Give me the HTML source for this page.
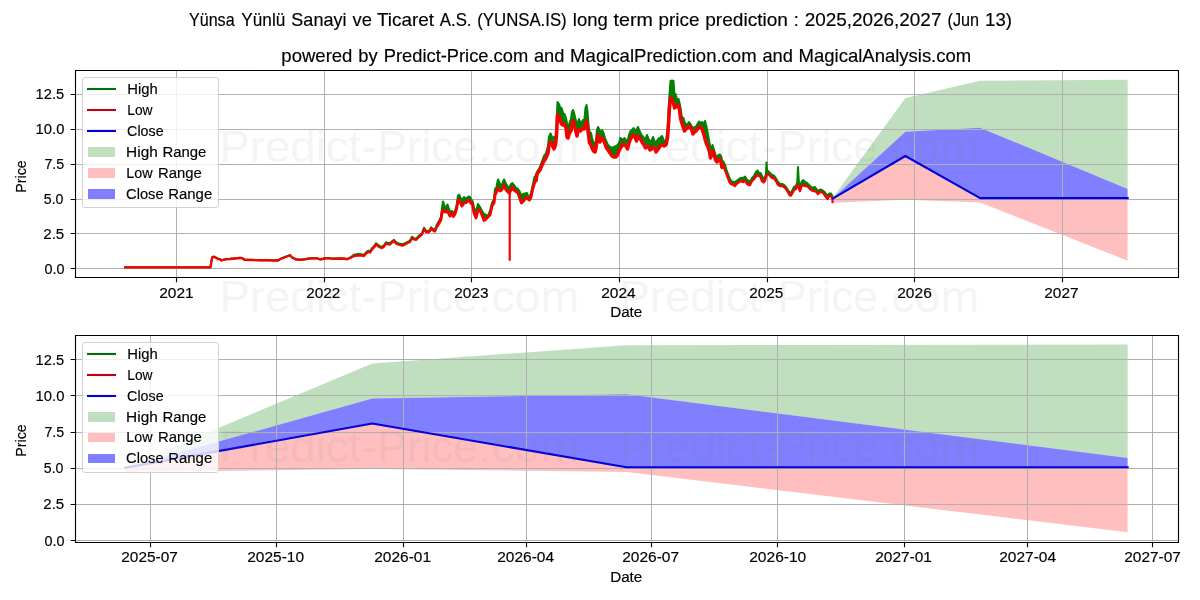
<!DOCTYPE html>
<html lang="en"><head><meta charset="utf-8"><title>YUNSA.IS long term price prediction</title>
<style>html,body{margin:0;padding:0;background:#fff;overflow:hidden}svg{display:block;font-family:"Liberation Sans",sans-serif;will-change:transform;opacity:.999}text{white-space:pre}</style></head><body>
<svg width="1200" height="600" viewBox="0 0 1200 600">
<rect width="1200" height="600" fill="#fff"/>
<text y="26.00" font-size="17.58" fill="#000" stroke="#000" stroke-width="0.15"><tspan x="188.96" textLength="45.63" lengthAdjust="spacingAndGlyphs">Yünsa</tspan> <tspan x="241.31" textLength="43.97" lengthAdjust="spacingAndGlyphs">Yünlü</tspan> <tspan x="291.33" textLength="55.14" lengthAdjust="spacingAndGlyphs">Sanayi</tspan> <tspan x="352.62" textLength="19.37" lengthAdjust="spacingAndGlyphs">ve</tspan> <tspan x="377.00" textLength="56.96" lengthAdjust="spacingAndGlyphs">Ticaret</tspan> <tspan x="439.80" textLength="31.70" lengthAdjust="spacingAndGlyphs">A.S.</tspan> <tspan x="477.28" textLength="89.42" lengthAdjust="spacingAndGlyphs">(YUNSA.IS)</tspan> <tspan x="572.80" textLength="35.00" lengthAdjust="spacingAndGlyphs">long</tspan> <tspan x="613.58" textLength="39.28" lengthAdjust="spacingAndGlyphs">term</tspan> <tspan x="658.57" textLength="40.93" lengthAdjust="spacingAndGlyphs">price</tspan> <tspan x="705.18" textLength="82.79" lengthAdjust="spacingAndGlyphs">prediction</tspan> <tspan x="793.75" textLength="5.00" lengthAdjust="spacingAndGlyphs">:</tspan> <tspan x="804.68" textLength="136.75" lengthAdjust="spacingAndGlyphs">2025,2026,2027</tspan> <tspan x="947.57" textLength="31.45" lengthAdjust="spacingAndGlyphs">(Jun</tspan> <tspan x="985.10" textLength="26.94" lengthAdjust="spacingAndGlyphs">13)</tspan></text>
<clipPath id="c1"><rect x="75.03" y="70.33" width="1102.71" height="206.56"/></clipPath>
<g clip-path="url(#c1)">
<polygon points="832.65,197.85 905.38,98.11 980.13,80.67 1127.62,79.84 1127.62,189.06 980.13,127.68 905.38,131.87 832.65,198.55" fill="#008000" fill-opacity="0.25"/>
<polygon points="832.65,198.55 905.38,156.00 980.13,198.13 1127.62,198.13 1127.62,260.63 980.13,202.60 905.38,199.67 832.65,202.74" fill="#ff0000" fill-opacity="0.25"/>
<polygon points="832.65,198.55 905.38,131.87 980.13,127.68 1127.62,189.06 1127.62,198.13 980.13,198.13 905.38,156.00 832.65,198.55" fill="#0000ff" fill-opacity="0.5"/>
<path d="M176.5 70.33V276.89M324.5 70.33V276.89M471.5 70.33V276.89M619.5 70.33V276.89M767.5 70.33V276.89M914.5 70.33V276.89M1062.5 70.33V276.89M75.03 268.5H1177.74M75.03 233.5H1177.74M75.03 199.5H1177.74M75.03 164.5H1177.74M75.03 129.5H1177.74M75.03 94.5H1177.74" stroke="#b0b0b0" stroke-width="1" fill="none" shape-rendering="crispEdges"/>
<polygon points="125.15,267.20 210.50,267.20 211.30,261.80 212.30,257.10 214.00,256.60 216.00,257.60 218.00,258.80 220.00,259.10 221.50,260.30 223.00,259.80 226.00,259.10 230.00,258.80 235.00,258.30 240.00,257.80 242.00,258.00 244.50,259.60 250.00,259.80 260.00,260.10 268.00,260.00 272.00,260.30 278.00,260.30 280.00,259.00 283.00,257.80 287.00,256.30 290.00,255.10 292.00,257.30 296.00,259.30 300.00,259.60 305.00,259.10 310.00,258.30 317.00,258.10 320.00,259.30 325.00,258.30 328.00,258.00 333.00,258.60 340.00,258.30 345.00,258.60 347.00,259.10 350.00,257.80 354.00,254.80 358.00,254.10 362.00,254.40 364.00,254.80 366.00,252.30 368.00,250.80 370.00,251.30 372.00,248.30 374.00,246.30 376.00,243.30 378.00,244.80 380.00,246.30 382.00,246.80 384.00,245.30 386.00,242.30 388.00,243.10 390.00,243.30 392.00,241.30 394.00,239.80 396.00,242.30 398.00,243.30 400.00,243.80 403.00,244.30 405.00,243.30 407.00,242.10 410.00,240.80 412.00,236.80 414.00,238.30 416.00,238.80 418.00,236.80 420.00,234.80 422.00,233.30 424.00,227.80 426.00,230.80 428.00,231.30 430.00,229.80 431.00,227.30 433.00,229.00 435.00,229.50 437.00,224.50 439.00,221.00 441.00,217.00 442.00,208.00 443.00,201.50 444.50,206.00 446.00,208.00 447.50,204.50 449.00,209.00 450.00,212.00 452.00,211.00 453.50,213.00 455.00,211.00 456.50,206.00 458.00,196.00 459.00,194.50 460.50,198.00 462.00,200.00 464.00,197.00 466.00,199.00 468.00,197.00 469.50,196.50 471.00,199.00 472.50,201.00 474.00,208.00 476.00,212.00 478.00,204.00 480.00,207.00 482.00,211.00 484.00,214.00 486.00,215.00 488.00,216.00 490.00,211.00 492.00,203.00 494.00,199.00 495.00,189.00 496.50,187.00 498.00,179.50 500.00,184.00 501.50,186.00 503.00,182.00 504.00,179.50 506.00,184.00 508.00,187.00 509.30,188.00 511.00,184.00 512.50,183.00 514.00,185.00 516.00,188.00 518.00,189.00 520.00,192.00 521.50,197.00 523.00,194.00 525.00,193.50 527.00,193.00 528.00,196.00 529.50,197.00 531.00,193.00 533.00,184.00 534.50,177.00 536.00,175.00 537.00,172.00 540.00,167.00 542.00,161.50 544.00,156.00 546.00,153.50 548.00,146.00 549.00,137.00 550.50,133.50 552.00,137.00 553.00,141.00 554.00,137.00 555.50,138.00 556.50,125.00 557.50,102.00 559.00,104.00 560.00,107.00 561.50,108.00 563.00,113.00 564.50,114.00 566.00,118.00 567.00,124.00 568.00,130.00 569.50,123.00 571.00,119.00 572.00,112.00 573.00,110.00 574.00,113.00 575.50,119.00 577.00,126.00 578.00,122.00 579.00,119.00 580.50,123.00 582.00,122.00 583.00,120.00 584.00,124.00 585.50,108.00 586.50,105.00 587.50,112.00 588.50,125.00 589.50,132.00 591.00,133.00 592.00,138.00 593.50,143.00 595.00,144.00 596.00,140.00 597.00,130.00 598.00,127.00 599.00,129.00 600.00,133.00 602.00,130.00 603.50,133.00 605.00,138.00 606.50,142.00 608.00,145.00 610.00,147.00 612.00,148.00 614.00,147.00 616.00,146.00 617.50,145.00 619.00,143.00 620.50,138.00 622.00,139.00 623.00,140.00 624.50,138.00 626.00,140.00 627.50,142.00 629.00,135.00 630.50,131.00 632.00,130.00 633.50,128.00 635.00,130.00 636.50,130.00 638.00,127.00 639.50,131.00 641.00,134.00 642.50,136.00 644.00,138.00 645.50,139.00 647.00,135.00 648.50,139.00 650.00,141.00 651.50,141.00 653.00,137.00 654.50,141.00 656.00,143.00 657.50,140.00 659.00,138.00 660.00,138.00 662.00,136.00 664.00,141.00 666.00,141.00 667.50,130.00 668.50,110.00 669.50,95.00 670.50,81.00 672.00,80.50 673.50,81.00 674.50,97.00 675.50,94.00 676.50,98.00 677.50,100.00 678.50,99.00 679.50,103.00 680.50,108.00 681.50,115.00 682.50,120.00 683.50,118.00 684.50,122.00 686.00,125.00 687.50,124.00 689.00,122.00 690.50,124.00 692.00,127.00 693.00,128.00 694.50,127.00 696.00,127.00 697.50,124.00 699.00,121.50 700.50,123.00 702.00,122.00 704.00,124.00 705.00,121.00 706.50,127.00 708.00,135.00 709.50,143.00 710.50,150.00 711.50,148.00 712.50,145.00 714.00,150.00 715.50,155.00 717.00,158.00 718.50,155.00 720.00,154.50 721.00,156.00 722.00,160.00 723.50,162.00 725.00,165.00 726.50,170.00 728.00,174.00 729.50,178.00 731.00,181.00 733.00,182.00 735.00,182.00 737.00,180.50 739.00,179.00 741.00,178.00 743.00,178.00 745.00,176.50 747.00,180.00 749.00,181.00 750.00,182.00 752.00,178.00 754.00,176.00 756.00,172.00 757.50,170.50 759.00,173.00 760.50,173.00 762.00,176.00 763.50,179.00 765.00,177.00 766.00,174.00 766.50,162.50 767.00,170.00 768.00,171.00 770.00,173.00 772.00,175.00 774.00,175.50 776.00,178.50 778.00,182.00 780.00,184.00 782.00,184.00 784.00,185.00 786.00,187.00 788.00,190.00 789.50,192.00 791.00,193.00 792.50,190.00 794.00,187.00 796.00,186.00 797.30,182.00 797.70,174.00 798.00,167.00 798.40,175.00 799.00,184.00 800.00,187.00 801.50,182.00 803.00,180.00 805.00,182.00 807.00,183.00 809.00,185.00 811.00,187.00 813.00,188.00 815.00,187.00 817.00,190.00 818.00,191.00 820.00,189.50 822.00,190.00 824.00,191.50 826.00,194.00 827.50,196.00 829.00,193.50 831.00,193.50 832.30,196.00 832.30,198.00 831.00,196.00 829.00,196.00 827.50,199.00 826.00,197.00 824.00,194.00 822.00,192.00 820.00,192.00 818.00,194.00 817.00,192.50 815.00,191.00 813.00,191.00 811.00,190.00 809.00,188.00 807.00,186.00 805.00,186.00 803.00,185.00 801.50,186.00 800.00,191.00 799.00,188.00 798.40,186.00 798.00,184.50 797.70,185.00 797.30,185.50 796.00,189.00 794.00,190.00 792.50,193.00 791.00,195.50 789.50,195.00 788.00,192.00 786.00,189.00 784.00,187.00 782.00,186.00 780.00,186.00 778.00,185.00 776.00,181.00 774.00,178.00 772.00,178.00 770.00,176.00 768.00,174.00 767.00,175.00 766.50,175.50 766.00,177.00 765.00,181.00 763.50,182.50 762.00,181.00 760.50,176.50 759.00,176.00 757.50,175.00 756.00,176.50 754.00,179.00 752.00,181.00 750.00,185.00 749.00,185.00 747.00,184.00 745.00,180.50 743.00,182.00 741.00,181.00 739.00,182.00 737.00,183.50 735.00,186.00 733.00,184.50 731.00,184.00 729.50,182.00 728.00,178.00 726.50,174.00 725.00,170.00 723.50,166.00 722.00,168.00 721.00,162.00 720.00,159.00 718.50,160.00 717.00,162.00 715.50,160.00 714.00,154.00 712.50,151.00 711.50,155.00 710.50,158.00 709.50,152.00 708.00,147.00 706.50,144.00 705.00,139.00 704.00,135.00 702.00,129.00 700.50,127.00 699.00,127.00 697.50,129.00 696.00,131.00 694.50,132.00 693.00,134.00 692.00,131.00 690.50,127.00 689.00,126.00 687.50,128.00 686.00,129.00 684.50,131.00 683.50,128.00 682.50,125.00 681.50,122.00 680.50,118.00 679.50,110.00 678.50,105.00 677.50,106.00 676.50,107.00 675.50,106.00 674.50,108.00 673.50,103.00 672.00,99.00 670.50,98.00 669.50,108.00 668.50,125.00 667.50,138.00 666.00,145.00 664.00,146.00 662.00,145.00 660.00,146.00 659.00,148.00 657.50,150.00 656.00,152.00 654.50,148.00 653.00,147.00 651.50,149.00 650.00,150.00 648.50,147.00 647.00,146.00 645.50,148.00 644.00,145.00 642.50,143.00 641.00,140.00 639.50,138.00 638.00,136.00 636.50,141.00 635.00,137.00 633.50,135.00 632.00,137.00 630.50,139.00 629.00,143.00 627.50,149.00 626.00,146.00 624.50,145.00 623.00,144.00 622.00,146.00 620.50,148.00 619.00,151.00 617.50,155.00 616.00,157.00 614.00,157.00 612.00,156.00 610.00,153.00 608.00,150.00 606.50,148.00 605.00,144.00 603.50,140.00 602.00,138.00 600.00,142.00 599.00,138.00 598.00,135.00 597.00,140.00 596.00,148.00 595.00,152.00 593.50,151.00 592.00,148.00 591.00,145.00 589.50,143.00 588.50,135.00 587.50,128.00 586.50,121.00 585.50,125.00 584.00,129.00 583.00,128.00 582.00,129.00 580.50,131.00 579.00,130.00 578.00,131.00 577.00,136.00 575.50,130.00 574.00,123.00 573.00,121.00 572.00,125.00 571.00,131.00 569.50,133.00 568.00,138.00 567.00,137.00 566.00,128.00 564.50,124.00 563.00,125.00 561.50,124.00 560.00,120.00 559.00,116.00 557.50,115.00 556.50,136.00 555.50,145.00 554.00,149.00 553.00,147.00 552.00,144.00 550.50,142.00 549.00,145.00 548.00,153.00 546.00,158.00 544.00,161.00 542.00,165.00 540.00,170.00 537.00,174.00 536.00,181.00 534.50,183.00 533.00,188.00 531.00,197.00 529.50,200.00 528.00,199.00 527.00,197.50 525.00,199.00 523.00,201.50 521.50,203.00 520.00,199.00 518.00,193.00 516.00,191.50 514.00,190.00 512.50,187.00 511.00,190.00 509.30,193.00 508.00,192.00 506.00,190.00 504.00,185.00 503.00,188.00 501.50,190.00 500.00,191.00 498.00,188.00 496.50,192.00 495.00,195.00 494.00,203.00 492.00,206.00 490.00,215.00 488.00,217.00 486.00,219.00 484.00,220.50 482.00,215.00 480.00,210.50 478.00,210.00 476.00,218.00 474.00,213.00 472.50,204.00 471.00,203.50 469.50,200.00 468.00,201.00 466.00,202.50 464.00,203.00 462.00,206.00 460.50,203.00 459.00,199.50 458.00,201.00 456.50,209.00 455.00,214.00 453.50,216.50 452.00,213.50 450.00,216.00 449.00,214.00 447.50,211.00 446.00,212.00 444.50,211.50 443.00,210.00 442.00,213.00 441.00,219.50 439.00,223.30 437.00,226.50 435.00,231.50 433.00,230.50 431.00,228.50 430.00,231.00 428.00,232.50 426.00,232.00 424.00,229.00 422.00,234.50 420.00,236.00 418.00,238.00 416.00,240.00 414.00,239.50 412.00,238.00 410.00,242.00 407.00,243.30 405.00,244.50 403.00,245.50 400.00,245.00 398.00,244.50 396.00,243.50 394.00,241.00 392.00,242.50 390.00,244.50 388.00,244.30 386.00,243.50 384.00,246.50 382.00,248.00 380.00,247.50 378.00,246.00 376.00,244.50 374.00,247.50 372.00,249.50 370.00,252.50 368.00,252.00 366.00,253.50 364.00,256.00 362.00,255.60 358.00,255.30 354.00,256.00 350.00,258.00 347.00,259.30 345.00,258.80 340.00,258.50 333.00,258.80 328.00,258.20 325.00,258.50 320.00,259.50 317.00,258.30 310.00,258.50 305.00,259.30 300.00,259.80 296.00,259.50 292.00,257.50 290.00,255.30 287.00,256.50 283.00,258.00 280.00,259.20 278.00,260.50 272.00,260.50 268.00,260.20 260.00,260.30 250.00,260.00 244.50,259.80 242.00,258.20 240.00,258.00 235.00,258.50 230.00,259.00 226.00,259.30 223.00,260.00 221.50,260.50 220.00,259.30 218.00,259.00 216.00,257.80 214.00,256.80 212.30,257.30 211.30,262.00 210.50,267.40 125.15,267.40" fill="#008000"/>
<polyline points="125.15,267.20 210.50,267.20 211.30,261.80 212.30,257.10 214.00,256.60 216.00,257.60 218.00,258.80 220.00,259.10 221.50,260.30 223.00,259.80 226.00,259.10 230.00,258.80 235.00,258.30 240.00,257.80 242.00,258.00 244.50,259.60 250.00,259.80 260.00,260.10 268.00,260.00 272.00,260.30 278.00,260.30 280.00,259.00 283.00,257.80 287.00,256.30 290.00,255.10 292.00,257.30 296.00,259.30 300.00,259.60 305.00,259.10 310.00,258.30 317.00,258.10 320.00,259.30 325.00,258.30 328.00,258.00 333.00,258.60 340.00,258.30 345.00,258.60 347.00,259.10 350.00,257.80 354.00,254.80 358.00,254.10 362.00,254.40 364.00,254.80 366.00,252.30 368.00,250.80 370.00,251.30 372.00,248.30 374.00,246.30 376.00,243.30 378.00,244.80 380.00,246.30 382.00,246.80 384.00,245.30 386.00,242.30 388.00,243.10 390.00,243.30 392.00,241.30 394.00,239.80 396.00,242.30 398.00,243.30 400.00,243.80 403.00,244.30 405.00,243.30 407.00,242.10 410.00,240.80 412.00,236.80 414.00,238.30 416.00,238.80 418.00,236.80 420.00,234.80 422.00,233.30 424.00,227.80 426.00,230.80 428.00,231.30 430.00,229.80 431.00,227.30 433.00,229.00 435.00,229.50 437.00,224.50 439.00,221.00 441.00,217.00 442.00,208.00 443.00,201.50 444.50,206.00 446.00,208.00 447.50,204.50 449.00,209.00 450.00,212.00 452.00,211.00 453.50,213.00 455.00,211.00 456.50,206.00 458.00,196.00 459.00,194.50 460.50,198.00 462.00,200.00 464.00,197.00 466.00,199.00 468.00,197.00 469.50,196.50 471.00,199.00 472.50,201.00 474.00,208.00 476.00,212.00 478.00,204.00 480.00,207.00 482.00,211.00 484.00,214.00 486.00,215.00 488.00,216.00 490.00,211.00 492.00,203.00 494.00,199.00 495.00,189.00 496.50,187.00 498.00,179.50 500.00,184.00 501.50,186.00 503.00,182.00 504.00,179.50 506.00,184.00 508.00,187.00 509.30,188.00 511.00,184.00 512.50,183.00 514.00,185.00 516.00,188.00 518.00,189.00 520.00,192.00 521.50,197.00 523.00,194.00 525.00,193.50 527.00,193.00 528.00,196.00 529.50,197.00 531.00,193.00 533.00,184.00 534.50,177.00 536.00,175.00 537.00,172.00 540.00,167.00 542.00,161.50 544.00,156.00 546.00,153.50 548.00,146.00 549.00,137.00 550.50,133.50 552.00,137.00 553.00,141.00 554.00,137.00 555.50,138.00 556.50,125.00 557.50,102.00 559.00,104.00 560.00,107.00 561.50,108.00 563.00,113.00 564.50,114.00 566.00,118.00 567.00,124.00 568.00,130.00 569.50,123.00 571.00,119.00 572.00,112.00 573.00,110.00 574.00,113.00 575.50,119.00 577.00,126.00 578.00,122.00 579.00,119.00 580.50,123.00 582.00,122.00 583.00,120.00 584.00,124.00 585.50,108.00 586.50,105.00 587.50,112.00 588.50,125.00 589.50,132.00 591.00,133.00 592.00,138.00 593.50,143.00 595.00,144.00 596.00,140.00 597.00,130.00 598.00,127.00 599.00,129.00 600.00,133.00 602.00,130.00 603.50,133.00 605.00,138.00 606.50,142.00 608.00,145.00 610.00,147.00 612.00,148.00 614.00,147.00 616.00,146.00 617.50,145.00 619.00,143.00 620.50,138.00 622.00,139.00 623.00,140.00 624.50,138.00 626.00,140.00 627.50,142.00 629.00,135.00 630.50,131.00 632.00,130.00 633.50,128.00 635.00,130.00 636.50,130.00 638.00,127.00 639.50,131.00 641.00,134.00 642.50,136.00 644.00,138.00 645.50,139.00 647.00,135.00 648.50,139.00 650.00,141.00 651.50,141.00 653.00,137.00 654.50,141.00 656.00,143.00 657.50,140.00 659.00,138.00 660.00,138.00 662.00,136.00 664.00,141.00 666.00,141.00 667.50,130.00 668.50,110.00 669.50,95.00 670.50,81.00 672.00,80.50 673.50,81.00 674.50,97.00 675.50,94.00 676.50,98.00 677.50,100.00 678.50,99.00 679.50,103.00 680.50,108.00 681.50,115.00 682.50,120.00 683.50,118.00 684.50,122.00 686.00,125.00 687.50,124.00 689.00,122.00 690.50,124.00 692.00,127.00 693.00,128.00 694.50,127.00 696.00,127.00 697.50,124.00 699.00,121.50 700.50,123.00 702.00,122.00 704.00,124.00 705.00,121.00 706.50,127.00 708.00,135.00 709.50,143.00 710.50,150.00 711.50,148.00 712.50,145.00 714.00,150.00 715.50,155.00 717.00,158.00 718.50,155.00 720.00,154.50 721.00,156.00 722.00,160.00 723.50,162.00 725.00,165.00 726.50,170.00 728.00,174.00 729.50,178.00 731.00,181.00 733.00,182.00 735.00,182.00 737.00,180.50 739.00,179.00 741.00,178.00 743.00,178.00 745.00,176.50 747.00,180.00 749.00,181.00 750.00,182.00 752.00,178.00 754.00,176.00 756.00,172.00 757.50,170.50 759.00,173.00 760.50,173.00 762.00,176.00 763.50,179.00 765.00,177.00 766.00,174.00 766.50,162.50 767.00,170.00 768.00,171.00 770.00,173.00 772.00,175.00 774.00,175.50 776.00,178.50 778.00,182.00 780.00,184.00 782.00,184.00 784.00,185.00 786.00,187.00 788.00,190.00 789.50,192.00 791.00,193.00 792.50,190.00 794.00,187.00 796.00,186.00 797.30,182.00 797.70,174.00 798.00,167.00 798.40,175.00 799.00,184.00 800.00,187.00 801.50,182.00 803.00,180.00 805.00,182.00 807.00,183.00 809.00,185.00 811.00,187.00 813.00,188.00 815.00,187.00 817.00,190.00 818.00,191.00 820.00,189.50 822.00,190.00 824.00,191.50 826.00,194.00 827.50,196.00 829.00,193.50 831.00,193.50 832.30,196.00" fill="none" stroke="#008000" stroke-width="2.08" stroke-linejoin="round" stroke-linecap="square"/>
<polyline points="125.15,267.40 210.50,267.40 211.30,262.00 212.30,257.30 214.00,256.80 216.00,257.80 218.00,259.00 220.00,259.30 221.50,260.50 223.00,260.00 226.00,259.30 230.00,259.00 235.00,258.50 240.00,258.00 242.00,258.20 244.50,259.80 250.00,260.00 260.00,260.30 268.00,260.20 272.00,260.50 278.00,260.50 280.00,259.20 283.00,258.00 287.00,256.50 290.00,255.30 292.00,257.50 296.00,259.50 300.00,259.80 305.00,259.30 310.00,258.50 317.00,258.30 320.00,259.50 325.00,258.50 328.00,258.20 333.00,258.80 340.00,258.50 345.00,258.80 347.00,259.30 350.00,258.00 354.00,256.00 358.00,255.30 362.00,255.60 364.00,256.00 366.00,253.50 368.00,252.00 370.00,252.50 372.00,249.50 374.00,247.50 376.00,244.50 378.00,246.00 380.00,247.50 382.00,248.00 384.00,246.50 386.00,243.50 388.00,244.30 390.00,244.50 392.00,242.50 394.00,241.00 396.00,243.50 398.00,244.50 400.00,245.00 403.00,245.50 405.00,244.50 407.00,243.30 410.00,242.00 412.00,238.00 414.00,239.50 416.00,240.00 418.00,238.00 420.00,236.00 422.00,234.50 424.00,229.00 426.00,232.00 428.00,232.50 430.00,231.00 431.00,228.50 433.00,230.50 435.00,231.50 437.00,226.50" fill="none" stroke="#f50000" stroke-width="2.3" stroke-linejoin="round" stroke-linecap="square"/>
<polyline points="437.00,226.50 439.00,223.30 441.00,219.50 442.00,213.00 443.00,210.00 444.50,211.50 446.00,212.00 447.50,211.00 449.00,214.00 450.00,216.00 452.00,213.50 453.50,216.50 455.00,214.00 456.50,209.00 458.00,201.00 459.00,199.50 460.50,203.00 462.00,206.00 464.00,203.00 466.00,202.50 468.00,201.00 469.50,200.00 471.00,203.50 472.50,204.00 474.00,213.00 476.00,218.00 478.00,210.00 480.00,210.50 482.00,215.00 484.00,220.50 486.00,219.00 488.00,217.00 490.00,215.00 492.00,206.00 494.00,203.00 495.00,195.00 496.50,192.00 498.00,188.00 500.00,191.00 501.50,190.00 503.00,188.00 504.00,185.00 506.00,190.00 508.00,192.00 509.30,193.00 511.00,190.00 512.50,187.00 514.00,190.00 516.00,191.50 518.00,193.00 520.00,199.00 521.50,203.00 523.00,201.50 525.00,199.00 527.00,197.50 528.00,199.00 529.50,200.00 531.00,197.00 533.00,188.00 534.50,183.00 536.00,181.00 537.00,174.00" fill="none" stroke="#f50000" stroke-width="2.9" stroke-linejoin="round" stroke-linecap="butt"/>
<polyline points="536.00,181.00 537.00,174.00 540.00,170.00 542.00,165.00 544.00,161.00 546.00,158.00 548.00,153.00 549.00,145.00 550.50,142.00 552.00,144.00 553.00,147.00 554.00,149.00 555.50,145.00 556.50,136.00 557.50,115.00 559.00,116.00 560.00,120.00 561.50,124.00 563.00,125.00 564.50,124.00 566.00,128.00 567.00,137.00 568.00,138.00 569.50,133.00 571.00,131.00 572.00,125.00 573.00,121.00 574.00,123.00 575.50,130.00 577.00,136.00 578.00,131.00 579.00,130.00 580.50,131.00 582.00,129.00 583.00,128.00 584.00,129.00 585.50,125.00 586.50,121.00 587.50,128.00 588.50,135.00 589.50,143.00 591.00,145.00 592.00,148.00 593.50,151.00 595.00,152.00 596.00,148.00 597.00,140.00 598.00,135.00 599.00,138.00 600.00,142.00 602.00,138.00 603.50,140.00 605.00,144.00 606.50,148.00 608.00,150.00 610.00,153.00 612.00,156.00 614.00,157.00 616.00,157.00 617.50,155.00 619.00,151.00 620.50,148.00 622.00,146.00 623.00,144.00 624.50,145.00 626.00,146.00 627.50,149.00 629.00,143.00 630.50,139.00 632.00,137.00 633.50,135.00 635.00,137.00 636.50,141.00 638.00,136.00 639.50,138.00 641.00,140.00 642.50,143.00 644.00,145.00 645.50,148.00 647.00,146.00 648.50,147.00 650.00,150.00 651.50,149.00 653.00,147.00 654.50,148.00 656.00,152.00 657.50,150.00 659.00,148.00 660.00,146.00 662.00,145.00 664.00,146.00 666.00,145.00 667.50,138.00 668.50,125.00 669.50,108.00 670.50,98.00 672.00,99.00 673.50,103.00 674.50,108.00 675.50,106.00 676.50,107.00 677.50,106.00 678.50,105.00 679.50,110.00 680.50,118.00 681.50,122.00 682.50,125.00 683.50,128.00 684.50,131.00 686.00,129.00 687.50,128.00 689.00,126.00 690.50,127.00 692.00,131.00 693.00,134.00 694.50,132.00 696.00,131.00 697.50,129.00 699.00,127.00 700.50,127.00 702.00,129.00 704.00,135.00 705.00,139.00 706.50,144.00 708.00,147.00 709.50,152.00 710.50,158.00 711.50,155.00 712.50,151.00 714.00,154.00 715.50,160.00 717.00,162.00 718.50,160.00 720.00,159.00 721.00,162.00 722.00,168.00" fill="none" stroke="#f50000" stroke-width="3.5" stroke-linejoin="round" stroke-linecap="butt"/>
<polyline points="721.00,162.00 722.00,168.00 723.50,166.00 725.00,170.00 726.50,174.00 728.00,178.00 729.50,182.00 731.00,184.00 733.00,184.50 735.00,186.00 737.00,183.50 739.00,182.00 741.00,181.00 743.00,182.00 745.00,180.50 747.00,184.00 749.00,185.00 750.00,185.00 752.00,181.00 754.00,179.00 756.00,176.50 757.50,175.00 759.00,176.00 760.50,176.50 762.00,181.00 763.50,182.50 765.00,181.00 766.00,177.00 766.50,175.50 767.00,175.00 768.00,174.00 770.00,176.00 772.00,178.00 774.00,178.00 776.00,181.00 778.00,185.00 780.00,186.00 782.00,186.00 784.00,187.00 786.00,189.00 788.00,192.00 789.50,195.00 791.00,195.50 792.50,193.00 794.00,190.00 796.00,189.00 797.30,185.50 797.70,185.00 798.00,184.50 798.40,186.00 799.00,188.00 800.00,191.00 801.50,186.00 803.00,185.00 805.00,186.00 807.00,186.00 809.00,188.00 811.00,190.00 813.00,191.00 815.00,191.00 817.00,192.50 818.00,194.00 820.00,192.00 822.00,192.00 824.00,194.00 826.00,197.00 827.50,199.00 829.00,196.00 831.00,196.00 832.30,198.00" fill="none" stroke="#f50000" stroke-width="2.4" stroke-linejoin="round" stroke-linecap="butt"/>
<path d="M832.47 197.00V203.24" stroke="#f50000" stroke-width="2.1" stroke-linecap="butt"/>
<path d="M509.70 191.50V260.00" stroke="#f50000" stroke-width="2.2" stroke-linecap="round"/>
<polyline points="832.65,198.55 905.38,156.00 980.13,198.13 1127.62,198.13" fill="none" stroke="#0000dc" stroke-width="2.08" stroke-linejoin="round" stroke-linecap="square"/>
</g>
<path d="M176.5 277.50v4.86M324.5 277.50v4.86M471.5 277.50v4.86M619.5 277.50v4.86M767.5 277.50v4.86M914.5 277.50v4.86M1062.5 277.50v4.86M75.50 268.5h-4.86M75.50 233.5h-4.86M75.50 199.5h-4.86M75.50 164.5h-4.86M75.50 129.5h-4.86M75.50 94.5h-4.86" stroke="#000" stroke-width="1.11" fill="none"/>
<path d="M75.5 70.5H1178.5V277.5H75.5Z" stroke="#000" stroke-width="1.11" fill="none" stroke-linejoin="miter"/>
<text transform="translate(159.23 297.61) scale(1.0559 1)" font-size="14.65" fill="#000" stroke="#000" stroke-width="0.15">2021</text>
<text transform="translate(306.23 297.61) scale(1.0479 1)" font-size="14.65" fill="#000" stroke="#000" stroke-width="0.15">2022</text>
<text transform="translate(454.23 297.61) scale(1.0537 1)" font-size="14.65" fill="#000" stroke="#000" stroke-width="0.15">2023</text>
<text transform="translate(601.22 297.61) scale(1.0582 1)" font-size="14.65" fill="#000" stroke="#000" stroke-width="0.15">2024</text>
<text transform="translate(749.23 297.61) scale(1.0491 1)" font-size="14.65" fill="#000" stroke="#000" stroke-width="0.15">2025</text>
<text transform="translate(897.22 297.61) scale(1.0620 1)" font-size="14.65" fill="#000" stroke="#000" stroke-width="0.15">2026</text>
<text transform="translate(1044.23 297.61) scale(1.0545 1)" font-size="14.65" fill="#000" stroke="#000" stroke-width="0.15">2027</text>
<text transform="translate(44.46 273.80) scale(0.9825 1)" font-size="14.65" fill="#000" stroke="#000" stroke-width="0.15">0.0</text>
<text transform="translate(43.24 238.93) scale(1.0318 1)" font-size="14.65" fill="#000" stroke="#000" stroke-width="0.15">2.5</text>
<text transform="translate(43.77 204.05) scale(0.9667 1)" font-size="14.65" fill="#000" stroke="#000" stroke-width="0.15">5.0</text>
<text transform="translate(44.41 169.18) scale(0.9729 1)" font-size="14.65" fill="#000" stroke="#000" stroke-width="0.15">7.5</text>
<text transform="translate(35.60 134.30) scale(1.0103 1)" font-size="14.65" fill="#000" stroke="#000" stroke-width="0.15">10.0</text>
<text transform="translate(35.61 99.43) scale(1.0000 1)" font-size="14.65" fill="#000" stroke="#000" stroke-width="0.15">12.5</text>
<text transform="translate(610.15 317.17) scale(1.0405 1)" font-size="14.65" fill="#000" stroke="#000" stroke-width="0.15">Date</text>
<text transform="translate(26.00 192.77) rotate(-90) scale(0.9748 1)" font-size="14.65" fill="#000" stroke="#000" stroke-width="0.15">Price</text>
<text y="62.00" font-size="17.58" fill="#000" stroke="#000" stroke-width="0.15"><tspan x="281.34" textLength="71.09" lengthAdjust="spacingAndGlyphs">powered</tspan> <tspan x="358.35" textLength="19.40" lengthAdjust="spacingAndGlyphs">by</tspan> <tspan x="383.78" textLength="144.38" lengthAdjust="spacingAndGlyphs">Predict-Price.com</tspan> <tspan x="533.91" textLength="30.50" lengthAdjust="spacingAndGlyphs">and</tspan> <tspan x="570.14" textLength="186.52" lengthAdjust="spacingAndGlyphs">MagicalPrediction.com</tspan> <tspan x="762.41" textLength="30.51" lengthAdjust="spacingAndGlyphs">and</tspan> <tspan x="798.64" textLength="172.55" lengthAdjust="spacingAndGlyphs">MagicalAnalysis.com</tspan></text>
<rect x="82.5" y="77.5" width="136.0" height="130.0" rx="2.6" fill="#fff" fill-opacity="0.8" stroke="#d2d2d2" stroke-width="1"/>
<path d="M87.00 89.00H116.00" stroke="#006e0a" stroke-width="2.08" stroke-linecap="butt"/>
<text transform="translate(127.18 93.83) scale(1.0141 1)" font-size="14.65" fill="#000" stroke="#000" stroke-width="0.15">High</text>
<path d="M87.00 110.00H116.00" stroke="#c00014" stroke-width="2.08" stroke-linecap="butt"/>
<text transform="translate(127.27 114.78) scale(0.9425 1)" font-size="14.65" fill="#000" stroke="#000" stroke-width="0.15">Low</text>
<path d="M87.00 131.00H116.00" stroke="#0000d7" stroke-width="2.08" stroke-linecap="butt"/>
<text transform="translate(127.07 135.72) scale(0.9760 1)" font-size="14.65" fill="#000" stroke="#000" stroke-width="0.15">Close</text>
<rect x="88" y="147" width="27" height="10" fill="#008000" fill-opacity="0.25" shape-rendering="crispEdges"/>
<text y="156.67" font-size="14.65" fill="#000" stroke="#000" stroke-width="0.15"><tspan x="126.13" textLength="31.64" lengthAdjust="spacingAndGlyphs">High</tspan> <tspan x="162.43" textLength="43.90" lengthAdjust="spacingAndGlyphs">Range</tspan></text>
<rect x="88" y="168" width="27" height="10" fill="#ff0000" fill-opacity="0.25" shape-rendering="crispEdges"/>
<text y="177.61" font-size="14.65" fill="#000" stroke="#000" stroke-width="0.15"><tspan x="126.22" textLength="26.38" lengthAdjust="spacingAndGlyphs">Low</tspan> <tspan x="157.93" textLength="43.89" lengthAdjust="spacingAndGlyphs">Range</tspan></text>
<rect x="88" y="189" width="27" height="10" fill="#0000ff" fill-opacity="0.5" shape-rendering="crispEdges"/>
<text y="198.56" font-size="14.65" fill="#000" stroke="#000" stroke-width="0.15"><tspan x="126.05" textLength="37.60" lengthAdjust="spacingAndGlyphs">Close</tspan> <tspan x="168.31" textLength="43.90" lengthAdjust="spacingAndGlyphs">Range</tspan></text>
<clipPath id="c2"><rect x="75.03" y="335.17" width="1102.71" height="206.56"/></clipPath>
<g clip-path="url(#c2)">
<polygon points="125.15,467.03 372.33,363.42 626.38,345.31 1127.62,344.44 1127.62,457.90 626.38,394.14 372.33,398.49 125.15,467.75" fill="#008000" fill-opacity="0.25"/>
<polygon points="125.15,467.75 372.33,423.56 626.38,467.32 1127.62,467.32 1127.62,532.23 626.38,471.95 372.33,468.91 125.15,472.10" fill="#ff0000" fill-opacity="0.25"/>
<polygon points="125.15,467.75 372.33,398.49 626.38,394.14 1127.62,457.90 1127.62,467.32 626.38,467.32 372.33,423.56 125.15,467.75" fill="#0000ff" fill-opacity="0.5"/>
<path d="M150.5 335.17V541.72M276.5 335.17V541.72M403.5 335.17V541.72M526.5 335.17V541.72M651.5 335.17V541.72M777.5 335.17V541.72M904.5 335.17V541.72M1027.5 335.17V541.72M1152.5 335.17V541.72M75.03 540.5H1177.74M75.03 504.5H1177.74M75.03 468.5H1177.74M75.03 432.5H1177.74M75.03 395.5H1177.74M75.03 359.5H1177.74" stroke="#b0b0b0" stroke-width="1" fill="none" shape-rendering="crispEdges"/>
<polyline points="125.15,467.75 372.33,423.56 626.38,467.32 1127.62,467.32" fill="none" stroke="#0000dc" stroke-width="2.08" stroke-linejoin="round" stroke-linecap="square"/>
</g>
<path d="M150.5 542.50v4.86M276.5 542.50v4.86M403.5 542.50v4.86M526.5 542.50v4.86M651.5 542.50v4.86M777.5 542.50v4.86M904.5 542.50v4.86M1027.5 542.50v4.86M1152.5 542.50v4.86M75.50 540.5h-4.86M75.50 504.5h-4.86M75.50 468.5h-4.86M75.50 432.5h-4.86M75.50 395.5h-4.86M75.50 359.5h-4.86" stroke="#000" stroke-width="1.11" fill="none"/>
<path d="M75.5 335.5H1178.5V542.5H75.5Z" stroke="#000" stroke-width="1.11" fill="none" stroke-linejoin="miter"/>
<text transform="translate(121.23 562.44) scale(1.0547 1)" font-size="14.65" fill="#000" stroke="#000" stroke-width="0.15">2025-07</text>
<text transform="translate(247.22 562.44) scale(1.0580 1)" font-size="14.65" fill="#000" stroke="#000" stroke-width="0.15">2025-10</text>
<text transform="translate(374.22 562.44) scale(1.0579 1)" font-size="14.65" fill="#000" stroke="#000" stroke-width="0.15">2026-01</text>
<text transform="translate(497.22 562.44) scale(1.0591 1)" font-size="14.65" fill="#000" stroke="#000" stroke-width="0.15">2026-04</text>
<text transform="translate(622.23 562.44) scale(1.0570 1)" font-size="14.65" fill="#000" stroke="#000" stroke-width="0.15">2026-07</text>
<text transform="translate(749.22 562.44) scale(1.0607 1)" font-size="14.65" fill="#000" stroke="#000" stroke-width="0.15">2026-10</text>
<text transform="translate(875.23 562.44) scale(1.0555 1)" font-size="14.65" fill="#000" stroke="#000" stroke-width="0.15">2027-01</text>
<text transform="translate(999.23 562.44) scale(1.0568 1)" font-size="14.65" fill="#000" stroke="#000" stroke-width="0.15">2027-04</text>
<text transform="translate(1124.23 562.44) scale(1.0547 1)" font-size="14.65" fill="#000" stroke="#000" stroke-width="0.15">2027-07</text>
<text transform="translate(44.46 545.70) scale(0.9825 1)" font-size="14.65" fill="#000" stroke="#000" stroke-width="0.15">0.0</text>
<text transform="translate(43.24 509.48) scale(1.0318 1)" font-size="14.65" fill="#000" stroke="#000" stroke-width="0.15">2.5</text>
<text transform="translate(43.77 473.25) scale(0.9667 1)" font-size="14.65" fill="#000" stroke="#000" stroke-width="0.15">5.0</text>
<text transform="translate(44.41 437.03) scale(0.9729 1)" font-size="14.65" fill="#000" stroke="#000" stroke-width="0.15">7.5</text>
<text transform="translate(35.60 400.80) scale(1.0103 1)" font-size="14.65" fill="#000" stroke="#000" stroke-width="0.15">10.0</text>
<text transform="translate(35.61 364.58) scale(1.0000 1)" font-size="14.65" fill="#000" stroke="#000" stroke-width="0.15">12.5</text>
<text transform="translate(610.15 582.00) scale(1.0405 1)" font-size="14.65" fill="#000" stroke="#000" stroke-width="0.15">Date</text>
<text transform="translate(26.00 456.77) rotate(-90) scale(0.9748 1)" font-size="14.65" fill="#000" stroke="#000" stroke-width="0.15">Price</text>
<rect x="82.5" y="342.5" width="136.0" height="130.0" rx="2.6" fill="#fff" fill-opacity="0.8" stroke="#d2d2d2" stroke-width="1"/>
<path d="M87.00 354.00H116.00" stroke="#006e0a" stroke-width="2.08" stroke-linecap="butt"/>
<text transform="translate(127.18 358.67) scale(1.0141 1)" font-size="14.65" fill="#000" stroke="#000" stroke-width="0.15">High</text>
<path d="M87.00 375.00H116.00" stroke="#c00014" stroke-width="2.08" stroke-linecap="butt"/>
<text transform="translate(127.27 379.61) scale(0.9425 1)" font-size="14.65" fill="#000" stroke="#000" stroke-width="0.15">Low</text>
<path d="M87.00 396.00H116.00" stroke="#0000d7" stroke-width="2.08" stroke-linecap="butt"/>
<text transform="translate(127.07 400.56) scale(0.9760 1)" font-size="14.65" fill="#000" stroke="#000" stroke-width="0.15">Close</text>
<rect x="88" y="412" width="27" height="10" fill="#008000" fill-opacity="0.25" shape-rendering="crispEdges"/>
<text y="421.50" font-size="14.65" fill="#000" stroke="#000" stroke-width="0.15"><tspan x="126.13" textLength="31.64" lengthAdjust="spacingAndGlyphs">High</tspan> <tspan x="162.43" textLength="43.90" lengthAdjust="spacingAndGlyphs">Range</tspan></text>
<rect x="88" y="433" width="27" height="9" fill="#ff0000" fill-opacity="0.25" shape-rendering="crispEdges"/>
<text y="442.44" font-size="14.65" fill="#000" stroke="#000" stroke-width="0.15"><tspan x="126.22" textLength="26.38" lengthAdjust="spacingAndGlyphs">Low</tspan> <tspan x="157.93" textLength="43.89" lengthAdjust="spacingAndGlyphs">Range</tspan></text>
<rect x="88" y="454" width="27" height="9" fill="#0000ff" fill-opacity="0.5" shape-rendering="crispEdges"/>
<text y="463.39" font-size="14.65" fill="#000" stroke="#000" stroke-width="0.15"><tspan x="126.05" textLength="37.60" lengthAdjust="spacingAndGlyphs">Close</tspan> <tspan x="168.31" textLength="43.90" lengthAdjust="spacingAndGlyphs">Range</tspan></text>
<text y="162.00" font-size="43.96" fill="#808080" fill-opacity="0.085"><tspan x="219.48" textLength="141.77" lengthAdjust="spacingAndGlyphs">Predict</tspan><tspan x="362.01" textLength="14.79" lengthAdjust="spacingAndGlyphs">-</tspan><tspan x="377.42" textLength="100.41" lengthAdjust="spacingAndGlyphs">Price</tspan><tspan x="478.23" textLength="101.15" lengthAdjust="spacingAndGlyphs">.com</tspan></text>
<text y="162.00" font-size="43.96" fill="#808080" fill-opacity="0.085"><tspan x="619.48" textLength="141.77" lengthAdjust="spacingAndGlyphs">Predict</tspan><tspan x="762.01" textLength="14.79" lengthAdjust="spacingAndGlyphs">-</tspan><tspan x="777.42" textLength="100.41" lengthAdjust="spacingAndGlyphs">Price</tspan><tspan x="878.23" textLength="101.15" lengthAdjust="spacingAndGlyphs">.com</tspan></text>
<text y="312.00" font-size="43.96" fill="#808080" fill-opacity="0.085"><tspan x="219.48" textLength="141.77" lengthAdjust="spacingAndGlyphs">Predict</tspan><tspan x="362.01" textLength="14.79" lengthAdjust="spacingAndGlyphs">-</tspan><tspan x="377.42" textLength="100.41" lengthAdjust="spacingAndGlyphs">Price</tspan><tspan x="478.23" textLength="101.15" lengthAdjust="spacingAndGlyphs">.com</tspan></text>
<text y="312.00" font-size="43.96" fill="#808080" fill-opacity="0.085"><tspan x="619.48" textLength="141.77" lengthAdjust="spacingAndGlyphs">Predict</tspan><tspan x="762.01" textLength="14.79" lengthAdjust="spacingAndGlyphs">-</tspan><tspan x="777.42" textLength="100.41" lengthAdjust="spacingAndGlyphs">Price</tspan><tspan x="878.23" textLength="101.15" lengthAdjust="spacingAndGlyphs">.com</tspan></text>
<text y="462.00" font-size="43.96" fill="#808080" fill-opacity="0.085"><tspan x="219.48" textLength="141.77" lengthAdjust="spacingAndGlyphs">Predict</tspan><tspan x="362.01" textLength="14.79" lengthAdjust="spacingAndGlyphs">-</tspan><tspan x="377.42" textLength="100.41" lengthAdjust="spacingAndGlyphs">Price</tspan><tspan x="478.23" textLength="101.15" lengthAdjust="spacingAndGlyphs">.com</tspan></text>
<text y="462.00" font-size="43.96" fill="#808080" fill-opacity="0.085"><tspan x="619.48" textLength="141.77" lengthAdjust="spacingAndGlyphs">Predict</tspan><tspan x="762.01" textLength="14.79" lengthAdjust="spacingAndGlyphs">-</tspan><tspan x="777.42" textLength="100.41" lengthAdjust="spacingAndGlyphs">Price</tspan><tspan x="878.23" textLength="101.15" lengthAdjust="spacingAndGlyphs">.com</tspan></text>
</svg></body></html>
